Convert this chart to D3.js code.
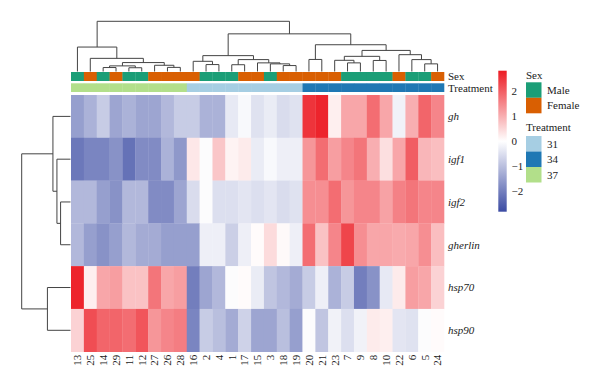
<!DOCTYPE html>
<html>
<head>
<meta charset="utf-8">
<script src="https://cdn.jsdelivr.net/npm/d3@7"></script>
<style>
  body { margin: 0; background: #fff; }
  text { font-family: "Liberation Serif", "Times New Roman", serif; font-size: 11px; fill: #222; }
</style>
</head>
<body>
<div class="chart"></div>
<script>
// samples in the order they appear on the x axis
var samples = ["13","25","14","29","11","12","27","26","28","16","2","4","1","17","15","3","18","19","20","21","23","7","9","8","10","22","6","5","24"];
var sex = ["Male","Female","Male","Female","Male","Male","Female","Female","Female","Female","Male","Male","Male","Female","Female","Male","Female","Female","Female","Female","Female","Male","Male","Male","Male","Female","Male","Male","Female"];
var treatment = ["37","37","37","37","37","37","37","37","37","31","31","31","31","31","31","31","31","31","34","34","34","34","34","34","34","34","34","34","34"];
var genes = ["gh","igf1","igf2","gherlin","hsp70","hsp90"];

// row scaled expression (z-score), one array per gene, same order as samples
var gh      = [-1.5,-1.2,-0.8,-1.4,-1.2,-1.4,-1.4,-1.1,-0.8,-0.8,-1.2,-1.2,-0.35,-0.1,-0.45,-0.3,-0.55,-0.45, 2.5, 2.7, 0.2, 1.1, 1.1, 1.8, 1.1,-0.2, 1.0, 1.9, 1.5];
var igf1    = [-2.1,-1.9,-1.9,-1.7,-2.2,-1.8,-1.8,-1.2,-1.6, 0.3,-0.05, 0.7, 0.15, 0.25,-0.3,-0.1,-0.25,-0.25, 1.3, 1.8, 1.2, 1.5, 1.7, 1.0, 0.4, 1.1, 2.0, 0.9, 0.8];
var igf2    = [-1.1,-1.1,-1.5,-1.7,-1.1,-1.1,-1.8,-1.8,-1.4,-0.55,-0.05,-0.5,-0.5,-0.4,-0.5,-0.4,-0.55,-0.45, 1.4, 1.4, 1.8, 1.3, 1.5, 1.5, 1.15, 1.55, 1.7, 1.5, 1.5];
var gherlin = [-1.1,-1.5,-1.7,-1.5,-1.1,-1.3,-1.3,-1.5,-1.5,-1.5,-0.25,-0.25,-0.75,-0.25, 0.05, 0.45, 0.08,-0.25, 1.8, 0.75, 1.5, 2.3, 1.4, 1.1, 1.1, 1.05, 1.1, 1.4, 0.8];
var hsp70   = [ 2.7, 0.2, 1.1, 1.2, 0.75, 0.75, 1.7, 1.1, 1.2,-2.0,-1.4,-1.1,-0.05, 0.05,-0.3,-0.9,-1.1,-1.3,-0.8,-0.25,-1.2,-0.8,-2.0,-1.7,-0.35, 0.25, 1.2, 1.1, 0.55];
var hsp90   = [ 0.55, 2.2, 1.9, 1.9, 1.8, 2.1, 1.3, 1.5, 1.6,-1.9,-0.8,-1.0,-1.3,-0.7,-1.4,-1.4,-1.0,-1.5,-0.05,-0.9,-0.2,-0.5,-0.2, 0.25, 0.2,-0.4,-0.45,-0.05, 0.05];
var values = [gh, igf1, igf2, gherlin, hsp70, hsp90];

// clustering merges: [left, right, height]; a string is a leaf, a number is an earlier merge
var colMerges = [
  ["14","29",0.79], ["11","12",0.75], [0,1,1.12], ["26","28",0.82], ["27",3,1.24],
  [2,4,1.78], ["25",5,2.62], ["13",6,4.87],
  ["2","4",1.38], ["16",8,2.03], ["1","17",1.35], ["18","19",1.18], ["3",11,1.52],
  ["15",12,1.72], [10,13,2.37], [9,14,3.16],
  ["20","21",2.4], ["7","9",1.72], ["23",17,2.23], ["8","10",2.2], [18,19,3.02],
  ["5","24",1.52], ["6",21,2.37], ["22",22,3.35], [20,23,4.2], [16,24,5.33],
  [15,25,7.5], [7,26,10]
];
var rowMerges = [
  ["igf2","gherlin",2.03], ["igf1",0,2.78], ["gh",1,3.6], ["hsp70","hsp90",4.73], [2,3,10]
];

var legendTicks = [2, 1, 0, -1, -2];
var sexLevels = ["Male","Female"];
var treatLevels = ["31","34","37"];

var width = 600, height = 389;
var hm = {left: 71, right: 444, top: 95, bottom: 351.7};

var svg = d3.select(".chart").append("svg")
    .attr("width", width)
    .attr("height", height);

var x = d3.scaleBand().domain(samples).range([hm.left, hm.right]);
var y = d3.scaleBand().domain(genes).range([hm.top, hm.bottom]);

var color = d3.scaleLinear()
    .domain([-2.8, 0, 2.8])
    .range(["#3b4ba3", "#ffffff", "#ec1c24"]);

var sexColor = d3.scaleOrdinal().domain(sexLevels).range(["#1b9e77", "#d95f02"]);
var treatColor = d3.scaleOrdinal().domain(treatLevels).range(["#a6cee3", "#1f78b4", "#b2df8a"]);

//heatmap cells
var cells = [];
values.forEach(function(row, i) {
  row.forEach(function(v, j) {
    cells.push({gene: genes[i], sample: samples[j], v: v});
  });
});

svg.append("g").selectAll("rect")
  .data(cells)
  .enter().append("rect")
    .attr("x", function(d) { return x(d.sample); })
    .attr("y", function(d) { return y(d.gene); })
    .attr("width", x.bandwidth() + 0.3)
    .attr("height", y.bandwidth() + 0.3)
    .attr("fill", function(d) { return color(d.v); });

//annotation bars
var sexBar = {top: 72, h: 9}, treatBar = {top: 83.3, h: 8.7};
svg.append("g").selectAll("rect")
  .data(samples)
  .enter().append("rect")
    .attr("x", function(d) { return x(d); })
    .attr("y", sexBar.top)
    .attr("width", x.bandwidth() + 0.3)
    .attr("height", sexBar.h)
    .attr("fill", function(d, i) { return sexColor(sex[i]); });

svg.append("g").selectAll("rect")
  .data(samples)
  .enter().append("rect")
    .attr("x", function(d) { return x(d); })
    .attr("y", treatBar.top)
    .attr("width", x.bandwidth() + 0.3)
    .attr("height", treatBar.h)
    .attr("fill", function(d, i) { return treatColor(treatment[i]); });

svg.append("text").attr("x", 448).attr("y", sexBar.top + sexBar.h / 2).attr("dy", "0.35em").text("Sex");
svg.append("text").attr("x", 448).attr("y", treatBar.top + treatBar.h / 2).attr("dy", "0.35em").text("Treatment");

//row labels
svg.append("g").selectAll("text")
  .data(genes)
  .enter().append("text")
    .attr("x", 448)
    .attr("y", function(d) { return y(d) + y.bandwidth() / 2; })
    .attr("dy", "0.35em")
    .style("font-style", "italic")
    .text(function(d) { return d; });

//column labels
svg.append("g").selectAll("text")
  .data(samples)
  .enter().append("text")
    .attr("transform", function(d) {
      return "translate(" + (x(d) + x.bandwidth() / 2) + "," + (hm.bottom + 3) + ") rotate(-90)";
    })
    .attr("dy", "0.35em")
    .style("text-anchor", "end")
    .text(function(d) { return d; });

//dendrograms
function buildTree(merges, pos) {
  var nodes = [];
  function get(ref) {
    if (typeof ref === "string") return {p: pos(ref), h: 0};
    return nodes[ref];
  }
  var segs = [];
  merges.forEach(function(m) {
    var a = get(m[0]), b = get(m[1]);
    nodes.push({p: (a.p + b.p) / 2, h: m[2]});
    segs.push({a: a, b: b, h: m[2]});
  });
  return segs;
}

var colH = d3.scaleLinear().domain([0, 10]).range([71.5, 21.3]);
var colSegs = buildTree(colMerges, function(s) { return x(s) + x.bandwidth() / 2; });
svg.append("g").selectAll("path")
  .data(colSegs)
  .enter().append("path")
    .attr("d", function(d) {
      return "M" + d.a.p + "," + colH(d.a.h) + "V" + colH(d.h) + "H" + d.b.p + "V" + colH(d.b.h);
    })
    .attr("fill", "none")
    .attr("stroke", "#444")
    .attr("stroke-width", 1);

var rowH = d3.scaleLinear().domain([0, 10]).range([70.5, 21.7]);
var rowSegs = buildTree(rowMerges, function(g) { return y(g) + y.bandwidth() / 2; });
svg.append("g").selectAll("path")
  .data(rowSegs)
  .enter().append("path")
    .attr("d", function(d) {
      return "M" + rowH(d.a.h) + "," + d.a.p + "H" + rowH(d.h) + "V" + d.b.p + "H" + rowH(d.b.h);
    })
    .attr("fill", "none")
    .attr("stroke", "#444")
    .attr("stroke-width", 1);

//colour key
var key = {x: 498.3, w: 8.4, top: 70.7, bottom: 211.7};
var keyY = d3.scaleLinear().domain([-2.8, 2.8]).range([key.bottom, key.top]);

var grad = svg.append("defs").append("linearGradient")
    .attr("id", "keygrad")
    .attr("x1", 0).attr("y1", 1).attr("x2", 0).attr("y2", 0);
d3.range(0, 1.0001, 0.1).forEach(function(t) {
  grad.append("stop")
    .attr("offset", t)
    .attr("stop-color", color(-2.8 + 5.6 * t));
});

svg.append("rect")
  .attr("x", key.x).attr("y", key.top)
  .attr("width", key.w).attr("height", key.bottom - key.top)
  .attr("fill", "url(#keygrad)");

svg.append("g").selectAll("text")
  .data(legendTicks)
  .enter().append("text")
    .attr("x", 511.5)
    .attr("y", function(d) { return keyY(d); })
    .attr("dy", "0.35em")
    .text(function(d) { return d < 0 ? "\u2212" + Math.abs(d) : d; });

//annotation legends
var sw = 15.5, lx = 526;
svg.append("text").attr("x", lx).attr("y", 79.3).text("Sex");
var sexLeg = svg.append("g").selectAll("g")
  .data(sexLevels)
  .enter().append("g")
    .attr("transform", function(d, i) { return "translate(" + lx + "," + (82.3 + i * sw) + ")"; });
sexLeg.append("rect").attr("width", sw).attr("height", sw).attr("fill", function(d) { return sexColor(d); });
sexLeg.append("text").attr("x", 21).attr("y", sw / 2).attr("dy", "0.35em").text(function(d) { return d; });

svg.append("text").attr("x", lx).attr("y", 130.7).text("Treatment");
var trLeg = svg.append("g").selectAll("g")
  .data(treatLevels)
  .enter().append("g")
    .attr("transform", function(d, i) { return "translate(" + lx + "," + (136 + i * sw) + ")"; });
trLeg.append("rect").attr("width", sw).attr("height", sw).attr("fill", function(d) { return treatColor(d); });
trLeg.append("text").attr("x", 21).attr("y", sw / 2).attr("dy", "0.35em").text(function(d) { return d; });
</script>
</body>
</html>
